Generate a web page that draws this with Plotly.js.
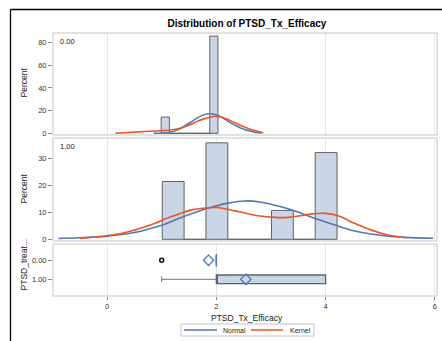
<!DOCTYPE html>
<html>
<head>
<meta charset="utf-8">
<script src="https://cdn.plot.ly/plotly-3.0.1.min.js"></script>
<style>html,body{margin:0;padding:0;background:#fff;}#chart{width:442px;height:341px;}</style>
</head>
<body>
<div id="chart"></div>
<script>
// ---------- data ----------
const groups = ["0.00", "1.00"];
// histogram, group 0.00 (bin midpoints, percent)
const bins0 = [1.065, 1.215, 1.365, 1.515, 1.665, 1.815, 1.955];
const pct0 = [14.3, 0, 0, 0, 0, 0, 85.7];
// histogram, group 1.00
const bins1 = [1.21, 1.61, 2.01, 2.41, 2.81, 3.21, 3.61, 4.01];
const pct1 = [21.4, 0, 35.7, 0, 0, 10.7, 0, 32.1];
// normal fit curve, group 0.00
const normX0 = [0.85, 1.0, 1.15, 1.28, 1.40, 1.52, 1.64, 1.73, 1.82, 1.88, 1.94, 2.03, 2.13, 2.25, 2.37, 2.49, 2.61, 2.72, 2.83];
const normY0 = [0.0, 0.2, 0.9, 2.8, 5.9, 9.5, 13.2, 15.6, 17.0, 17.3, 17.0, 15.8, 13.2, 9.6, 6.4, 3.8, 2.0, 0.8, 0.3];
// kernel curve, group 0.00
const kerX0 = [0.15, 0.5, 0.97, 1.15, 1.28, 1.40, 1.52, 1.64, 1.76, 1.88, 1.97, 2.08, 2.19, 2.31, 2.43, 2.55, 2.67, 2.77, 2.86];
const kerY0 = [0.0, 1.0, 2.3, 2.9, 3.8, 5.3, 7.6, 10.3, 12.5, 14.1, 15.0, 14.3, 12.6, 10.0, 7.3, 4.9, 2.9, 1.5, 0.5];
// normal fit curve, group 1.00
const normX1 = [-0.89, -0.5, -0.04, 0.27, 0.57, 0.88, 1.06, 1.30, 1.61, 1.97, 2.22, 2.52, 2.83, 3.13, 3.44, 3.80, 4.17, 4.53, 4.96, 5.45, 5.97];
const normY1 = [0.3, 0.6, 1.1, 1.8, 2.8, 4.5, 5.6, 7.6, 9.9, 12.2, 13.4, 14.2, 13.7, 12.3, 10.5, 7.8, 5.3, 3.1, 1.6, 0.7, 0.4];
// kernel curve, group 1.00
const kerX1 = [-0.49, -0.04, 0.27, 0.57, 0.88, 1.06, 1.30, 1.55, 1.85, 2.0, 2.16, 2.46, 2.77, 3.07, 3.31, 3.53, 3.75, 3.99, 4.23, 4.53, 4.84, 5.14, 5.48];
const kerY1 = [0.3, 1.2, 2.2, 3.8, 5.9, 7.5, 9.3, 10.9, 11.7, 11.8, 11.3, 10.0, 8.7, 8.1, 8.1, 8.7, 9.4, 9.6, 8.7, 5.9, 3.4, 1.6, 0.6];
// box plot statistics per group
const boxPos = [0, 1];
const q1s = [2, 2];
const medians = [2, 2];
const q3s = [2, 4];
const lows = [2, 1];
const means = [1.857, 2.54];
const outX = [1];
const outY = [0];
const xTicks = [0, 2, 4, 6];
const legendNames = ["Normal", "Kernel"];

// ---------- styles ----------
const FONT = "Liberation Sans, Arial, sans-serif";
const BLUE = "#5476b4";
const ORANGE = "#e8562a";
const BARFILL = "#cad5e5";
const BAREDGE = "#5f6268";
const FRAME = "#c6c6c6";

const traces = [
  {type: "bar", x: bins0, y: pct0, width: 0.15, xaxis: "x", yaxis: "y",
   marker: {color: BARFILL, line: {color: BAREDGE, width: 1}}, hoverinfo: "skip"},
  {type: "bar", x: bins1, y: pct1, width: 0.4, xaxis: "x", yaxis: "y2",
   marker: {color: BARFILL, line: {color: BAREDGE, width: 1}}, hoverinfo: "skip"},
  {type: "scatter", mode: "lines", x: normX0, y: normY0, xaxis: "x", yaxis: "y", name: legendNames[0],
   line: {color: BLUE, width: 1.6, shape: "spline", smoothing: 1}},
  {type: "scatter", mode: "lines", x: kerX0, y: kerY0, xaxis: "x", yaxis: "y", name: legendNames[1],
   line: {color: ORANGE, width: 1.6, shape: "spline", smoothing: 1}},
  {type: "scatter", mode: "lines", x: normX1, y: normY1, xaxis: "x", yaxis: "y2", name: legendNames[0],
   line: {color: BLUE, width: 1.6, shape: "spline", smoothing: 1}},
  {type: "scatter", mode: "lines", x: kerX1, y: kerY1, xaxis: "x", yaxis: "y2", name: legendNames[1],
   line: {color: ORANGE, width: 1.6, shape: "spline", smoothing: 1}},
  // box plots
  {type: "box", orientation: "h", y: boxPos, q1: q1s, median: medians, q3: q3s,
   lowerfence: q1s, upperfence: q3s, width: 0.45, xaxis: "x", yaxis: "y3",
   fillcolor: BARFILL, line: {color: BAREDGE, width: 1.3}, boxpoints: false, hoverinfo: "skip"},
  // whiskers
  {type: "scatter", mode: "lines", x: [lows[1], q1s[1]], y: [boxPos[1], boxPos[1]], xaxis: "x", yaxis: "y3",
   line: {color: BLUE, width: 1}, hoverinfo: "skip"},
  {type: "scatter", mode: "markers", x: [lows[1]], y: [boxPos[1]], xaxis: "x", yaxis: "y3",
   marker: {symbol: "line-ns-open", size: 4, color: BLUE, line: {color: BLUE, width: 1}}, hoverinfo: "skip"},
  // median of collapsed box
  {type: "scatter", mode: "markers", x: [medians[0]], y: [boxPos[0]], xaxis: "x", yaxis: "y3",
   marker: {symbol: "line-ns-open", size: 9, color: BLUE, line: {color: BLUE, width: 1.5}}, hoverinfo: "skip"},
  // means
  {type: "scatter", mode: "markers", x: means, y: boxPos, xaxis: "x", yaxis: "y3",
   marker: {symbol: "diamond-open", size: 8, color: BLUE, line: {color: BLUE, width: 1.3}}, hoverinfo: "skip"},
  // outliers
  {type: "scatter", mode: "markers", x: outX, y: outY, xaxis: "x", yaxis: "y3",
   marker: {symbol: "circle-open", size: 4, color: "#111", line: {color: "#111", width: 1.5}}, hoverinfo: "skip"}
];

const tickFont = {family: FONT, size: 7.5, color: "#333"};
const yCommon = {ticks: "outside", ticklen: 4, tickcolor: "#888", tickfont: tickFont,
  showgrid: false, zeroline: false, showline: false, anchor: "x", fixedrange: true};

const legFont = {family: FONT, size: 7, color: "#222"};
const layout = {
  width: 442, height: 341,
  margin: {l: 53, r: 5, t: 33, b: 45, pad: 0, autoexpand: false},
  paper_bgcolor: "#fff", plot_bgcolor: "#fff",
  font: {family: FONT, color: "#222"},
  showlegend: false,
  title: {text: "<b>Distribution of PTSD_Tx_Efficacy</b>", font: {family: FONT, size: 10, color: "#000"},
    xref: "paper", x: 0.505, xanchor: "center", yref: "container", y: 1 - 23 / 341, yanchor: "middle"},
  xaxis: {range: [-0.99, 6.04], tickvals: xTicks, ticktext: xTicks.map(String), anchor: "y3",
    showgrid: true, gridcolor: "#e6e6e6", gridwidth: 1, zeroline: false, showline: false,
    ticks: "outside", ticklen: 3, tickcolor: "#888", tickfont: tickFont},
  yaxis: Object.assign({}, yCommon, {domain: [0.6122, 1], range: [-1.5, 88.5], tickvals: [0, 20, 40, 60, 80]}),
  yaxis2: Object.assign({}, yCommon, {domain: [0.2091, 0.6008], range: [-0.63, 37.5], tickvals: [0, 10, 20, 30]}),
  yaxis3: Object.assign({}, yCommon, {domain: [0, 0.1977], range: [1.879, -0.858], tickvals: boxPos, ticktext: groups}),
  shapes: [
    {type: "rect", xref: "paper", x0: 0, x1: 1, yref: "y domain", y0: 0, y1: 1, line: {color: FRAME, width: 1}},
    {type: "rect", xref: "paper", x0: 0, x1: 1, yref: "y2 domain", y0: 0, y1: 1, line: {color: FRAME, width: 1}},
    {type: "rect", xref: "paper", x0: 0, x1: 1, yref: "y3 domain", y0: 0, y1: 1, line: {color: FRAME, width: 1}},
    {type: "line", xref: "paper", yref: "paper", x0: -0.1107, x1: -0.1107, y0: 1.0894, y1: -0.3, line: {color: "#000", width: 1.3}},
    {type: "line", xref: "paper", yref: "paper", x0: -0.1107, x1: 1.1, y0: 1.0894, y1: 1.0894, line: {color: "#000", width: 1.3}},
    // legend box and samples
    {type: "rect", xref: "paper", yref: "paper", x0: 0.3333, x1: 0.6797, y0: -0.1521, y1: -0.1065, line: {color: "#c4c4c4", width: 1}, fillcolor: "#fff"},
    {type: "line", xref: "paper", yref: "paper", x0: 0.3411, x1: 0.4271, y0: -0.1293, y1: -0.1293, line: {color: BLUE, width: 1.6}},
    {type: "line", xref: "paper", yref: "paper", x0: 0.5156, x1: 0.5990, y0: -0.1293, y1: -0.1293, line: {color: ORANGE, width: 1.6}}
  ],
  annotations: [
    {text: groups[0], xref: "paper", x: 0.013, xanchor: "left", yref: "y domain", y: 0.92, yanchor: "middle", showarrow: false, font: {family: FONT, size: 7.5, color: "#222"}},
    {text: groups[1], xref: "paper", x: 0.013, xanchor: "left", yref: "y2 domain", y: 0.922, yanchor: "middle", showarrow: false, font: {family: FONT, size: 7.5, color: "#222"}},
    {text: "Percent", xref: "paper", x: -0.0768, xanchor: "center", yref: "paper", y: 0.810, yanchor: "middle", textangle: -90, showarrow: false, font: {family: FONT, size: 8.5, color: "#222"}},
    {text: "Percent", xref: "paper", x: -0.0768, xanchor: "center", yref: "paper", y: 0.407, yanchor: "middle", textangle: -90, showarrow: false, font: {family: FONT, size: 8.5, color: "#222"}},
    {text: "PTSD_treat...", xref: "paper", x: -0.0768, xanchor: "center", yref: "paper", y: 0.118, yanchor: "middle", textangle: -90, showarrow: false, font: {family: FONT, size: 8.5, color: "#222"}},
    {text: "PTSD_Tx_Efficacy", xref: "paper", x: 0.505, xanchor: "center", yref: "paper", y: -0.0837, yanchor: "middle", showarrow: false, font: {family: FONT, size: 8.5, color: "#222"}},
    {text: legendNames[0], xref: "paper", x: 0.4375, xanchor: "left", yref: "paper", y: -0.1293, yanchor: "middle", showarrow: false, font: legFont},
    {text: legendNames[1], xref: "paper", x: 0.6120, xanchor: "left", yref: "paper", y: -0.1293, yanchor: "middle", showarrow: false, font: legFont}
  ]
};

Plotly.newPlot("chart", traces, layout, {staticPlot: true, displayModeBar: false});
</script>
</body>
</html>
